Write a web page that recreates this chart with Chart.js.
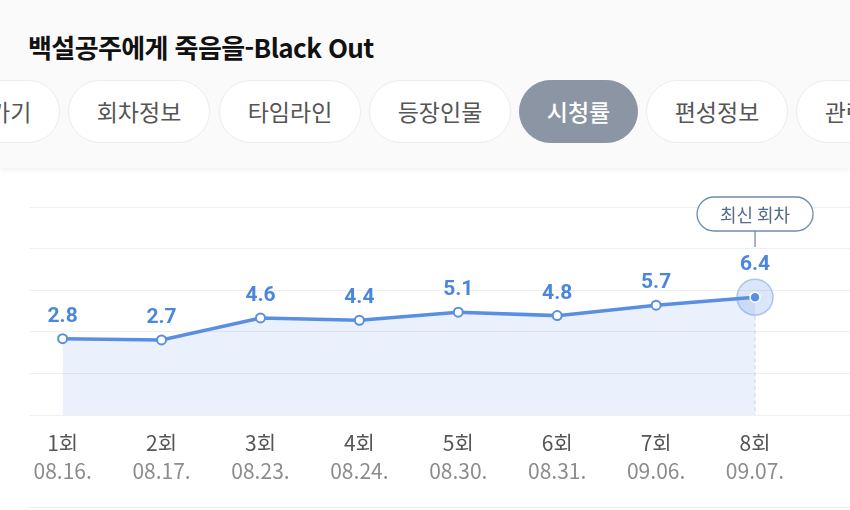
<!DOCTYPE html>
<html lang="ko">
<head>
<meta charset="utf-8">
<script src="https://cdn.jsdelivr.net/npm/chart.js@4.4.1/dist/chart.umd.min.js"></script>
<style>
    body { margin: 0; width: 850px; height: 510px; overflow: hidden; background: #fff; position: relative; font-family: "Noto Sans CJK KR", sans-serif; }
    .header { position: absolute; left: 0; top: 0; width: 850px; height: 168px; background: #fafafa; box-shadow: 0 2px 5px rgba(0, 0, 0, 0.06); }
    .title { position: absolute; left: 28px; top: 29px; font-size: 26px; font-weight: 700; color: #111; line-height: 36px; letter-spacing: -0.6px; }
    .tab { position: absolute; top: 80px; height: 61px; box-sizing: content-box; border: 1px solid #ececec; border-radius: 32px; background: #fff; color: #555; font-size: 23px; line-height: 61px; text-align: center; white-space: nowrap; overflow: hidden; }
    .tab.active { background: #8b95a4; border-color: #8b95a4; color: #fff; font-weight: 500; }
    #chartWrap { position: absolute; left: 0; top: 180px; width: 850px; height: 330px; }
    .bottom-line { position: absolute; left: 28px; right: 0; top: 507px; border-top: 1px solid #f0f0f0; }
</style>
</head>
<body>
<div class="header">
    <div class="title">백설공주에게 죽음을-Black Out</div>
    <div class="tab" style="left:-82px; width:140px;">바로가기</div>
    <div class="tab" style="left:68px; width:140px;">회차정보</div>
    <div class="tab" style="left:219px; width:140px;">타임라인</div>
    <div class="tab" style="left:369px; width:140px;">등장인물</div>
    <div class="tab active" style="left:519px; width:117px;">시청률</div>
    <div class="tab" style="left:646px; width:140px;">편성정보</div>
    <div class="tab" style="left:796px; width:140px;">관련정보</div>
</div>
<div id="chartWrap"><canvas id="ratingChart"></canvas></div>
<div class="bottom-line"></div>

<script>
const episodes = ['1회', '2회', '3회', '4회', '5회', '6회', '7회', '8회'];
const airDates = ['08.16.', '08.17.', '08.23.', '08.24.', '08.30.', '08.31.', '09.06.', '09.07.'];
const ratings = [2.8, 2.7, 4.6, 4.4, 5.1, 4.8, 5.7, 6.4];
const gridValues = [-3.8, -0.2, 3.4, 7.0, 10.6, 14.2];
const latestLabel = '최신 회차';

const blue = '#5a8ee3';
const labelBlue = '#4a86dd';
const lastIndex = ratings.length - 1;
const family = '"Noto Sans CJK KR", sans-serif';

// dashed guide under the latest episode
const guideLine = {
    id: 'guideLine',
    afterDatasetsDraw(chart) {
        const pt = chart.getDatasetMeta(0).data[lastIndex];
        const ctx = chart.ctx;
        ctx.save();
        ctx.strokeStyle = '#cfdaeb';
        ctx.lineWidth = 1.2;
        ctx.setLineDash([4, 3]);
        ctx.beginPath();
        ctx.moveTo(pt.x, pt.y + 19);
        ctx.lineTo(pt.x, chart.chartArea.bottom);
        ctx.stroke();
        ctx.restore();
    }
};

// value labels above each point
const valueLabels = {
    id: 'valueLabels',
    afterDatasetsDraw(chart) {
        const ctx = chart.ctx;
        ctx.save();
        ctx.fillStyle = labelBlue;
        ctx.font = 'bold 21px Roboto, sans-serif';
        ctx.textAlign = 'center';
        ctx.textBaseline = 'middle';
        chart.getDatasetMeta(0).data.forEach((pt, i) => {
            const off = i === lastIndex ? 32 : 22;
            ctx.fillText(ratings[i].toFixed(1), pt.x, pt.y - off);
        });
        ctx.restore();
    }
};

// "최신 회차" callout
const latestCallout = {
    id: 'latestCallout',
    afterDraw(chart) {
        const pt = chart.getDatasetMeta(0).data[lastIndex];
        const ctx = chart.ctx;
        const w = 116, h = 34;
        const top = chart.chartArea.top - 10;
        const left = pt.x - w / 2;
        ctx.save();
        ctx.strokeStyle = '#6f8cb3';
        ctx.lineWidth = 1.3;
        ctx.fillStyle = '#fff';
        ctx.beginPath();
        ctx.roundRect(left, top, w, h, h / 2);
        ctx.fill();
        ctx.stroke();
        ctx.beginPath();
        ctx.moveTo(pt.x, top + h);
        ctx.lineTo(pt.x, top + h + 16);
        ctx.stroke();
        ctx.fillStyle = '#566b88';
        ctx.font = '18px ' + family;
        ctx.textAlign = 'center';
        ctx.textBaseline = 'middle';
        ctx.fillText(latestLabel, pt.x, top + h / 2 + 1);
        ctx.restore();
    }
};

const points = ratings.map((v, i) => ({ x: i, y: v }));

new Chart(document.getElementById('ratingChart'), {
    type: 'line',
    data: {
        datasets: [
            {
                data: points,
                borderColor: blue,
                borderWidth: 3.5,
                backgroundColor: 'rgba(90, 142, 227, 0.12)',
                fill: 'start',
                tension: 0,
                pointRadius: ctx => ctx.dataIndex === lastIndex ? 5 : 4.5,
                pointBackgroundColor: ctx => ctx.dataIndex === lastIndex ? blue : '#fff',
                pointBorderColor: ctx => ctx.dataIndex === lastIndex ? '#fff' : blue,
                pointBorderWidth: ctx => ctx.dataIndex === lastIndex ? 1.5 : 2
            },
            {
                data: [points[lastIndex]],
                showLine: false,
                fill: false,
                pointRadius: 18,
                pointBackgroundColor: 'rgba(90, 142, 227, 0.22)',
                pointBorderColor: 'rgba(90, 142, 227, 0.45)',
                pointBorderWidth: 1.5
            }
        ]
    },
    options: {
        responsive: true,
        maintainAspectRatio: false,
        animation: false,
        events: [],
        layout: { autoPadding: false, padding: { top: 27, left: 30, right: 0, bottom: 0 } },
        plugins: {
            legend: { display: false },
            tooltip: { enabled: false }
        },
        scales: {
            x: {
                type: 'linear',
                position: 'bottom',
                weight: 0,
                min: -0.33,
                max: 7.96,
                grid: { display: false, drawTicks: false },
                border: { display: false },
                afterBuildTicks: axis => { axis.ticks = episodes.map((e, i) => ({ value: i })); },
                afterFit: axis => { axis.height = 36; },
                ticks: {
                    padding: 15,
                    autoSkip: false,
                    maxRotation: 0,
                    color: '#555',
                    font: { size: 21, family: family },
                    callback: value => episodes[value]
                }
            },
            x2: {
                type: 'linear',
                position: 'bottom',
                weight: 1,
                min: -0.33,
                max: 7.96,
                grid: { display: false, drawTicks: false },
                border: { display: false },
                afterBuildTicks: axis => { axis.ticks = airDates.map((d, i) => ({ value: i })); },
                afterFit: axis => { axis.height = 59; },
                ticks: {
                    padding: 7,
                    autoSkip: false,
                    maxRotation: 0,
                    color: '#8c8c8c',
                    font: { size: 21, family: family },
                    callback: value => airDates[value]
                }
            },
            y: {
                min: gridValues[0],
                max: gridValues[gridValues.length - 1],
                afterBuildTicks: axis => { axis.ticks = gridValues.map(v => ({ value: v })); },
                afterFit: axis => { axis.width = 0; },
                grid: { color: '#efefef', drawTicks: false },
                border: { display: false },
                ticks: { display: false }
            }
        }
    },
    plugins: [guideLine, valueLabels, latestCallout]
});
</script>
</body>
</html>
